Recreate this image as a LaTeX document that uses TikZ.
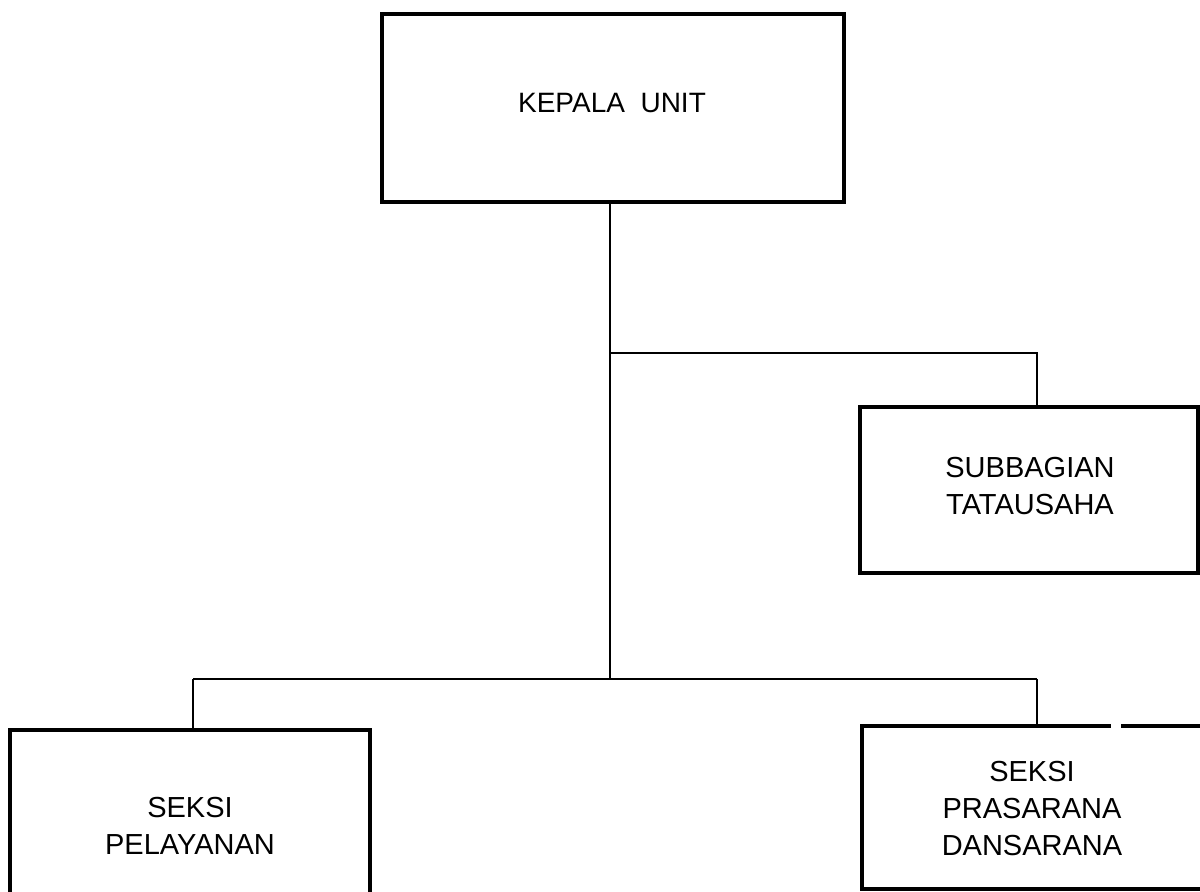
\documentclass[tikz,border=0pt]{standalone}
\usepackage{fontspec}
\setmainfont{Liberation Sans}
\begin{document}
\begin{tikzpicture}[x=0.5pt,y=-0.5pt,
  boxst/.style={draw=black,line width=2pt,rectangle,inner sep=0pt},
  lbl/.style={align=center,inner sep=0pt,font=\fontsize{14.5}{18.5}\selectfont},
  conn/.style={draw=black,line width=1.4pt}]
\useasboundingbox (0,0) rectangle (1200,892);
% boxes
\node[boxst,minimum width=231pt,minimum height=94pt] (kepala) at (613,108) {};
\node[boxst,minimum width=169pt,minimum height=83pt] (sub) at (1029,490) {};
\node[boxst,minimum width=180pt,minimum height=95pt] (pel) at (190,825) {};
\node[boxst,minimum width=176.5pt,minimum height=81.5pt] (pras) at (1038.5,807.5) {};
% labels
\node[lbl,font=\fontsize{14}{18}\selectfont] (tkepala) at (612,103) {KEPALA\ \ UNIT};
\node[lbl] (tsub) at (1030,486) {SUBBAGIAN\\TATAUSAHA};
\node[lbl] (tpel) at (190,826) {SEKSI\\PELAYANAN};
\node[lbl] (tpras) at (1032,809) {SEKSI\\PRASARANA\\DANSARANA};
% gap in top border of pras
\coordinate (g1) at (1111,726);
\coordinate (g2) at (1121,726);
\draw[white,line width=3pt] (g1) -- (g2);
% connectors
\coordinate (b1) at (610,353);
\coordinate (b2) at (610,679);
\coordinate (d1) at (1037,353);
\coordinate (d2) at (193,679);
\coordinate (d3) at (1037,679);
\draw[conn] (kepala.south -| b1) -- (b2);
\draw[conn] (b1) -- (d1) -- (d1 |- sub.north);
\draw[conn] (d2) -- (d3);
\draw[conn] (d2) -- (d2 |- pel.north);
\draw[conn] (d3) -- (d3 |- pras.north);
\end{tikzpicture}
\end{document}
